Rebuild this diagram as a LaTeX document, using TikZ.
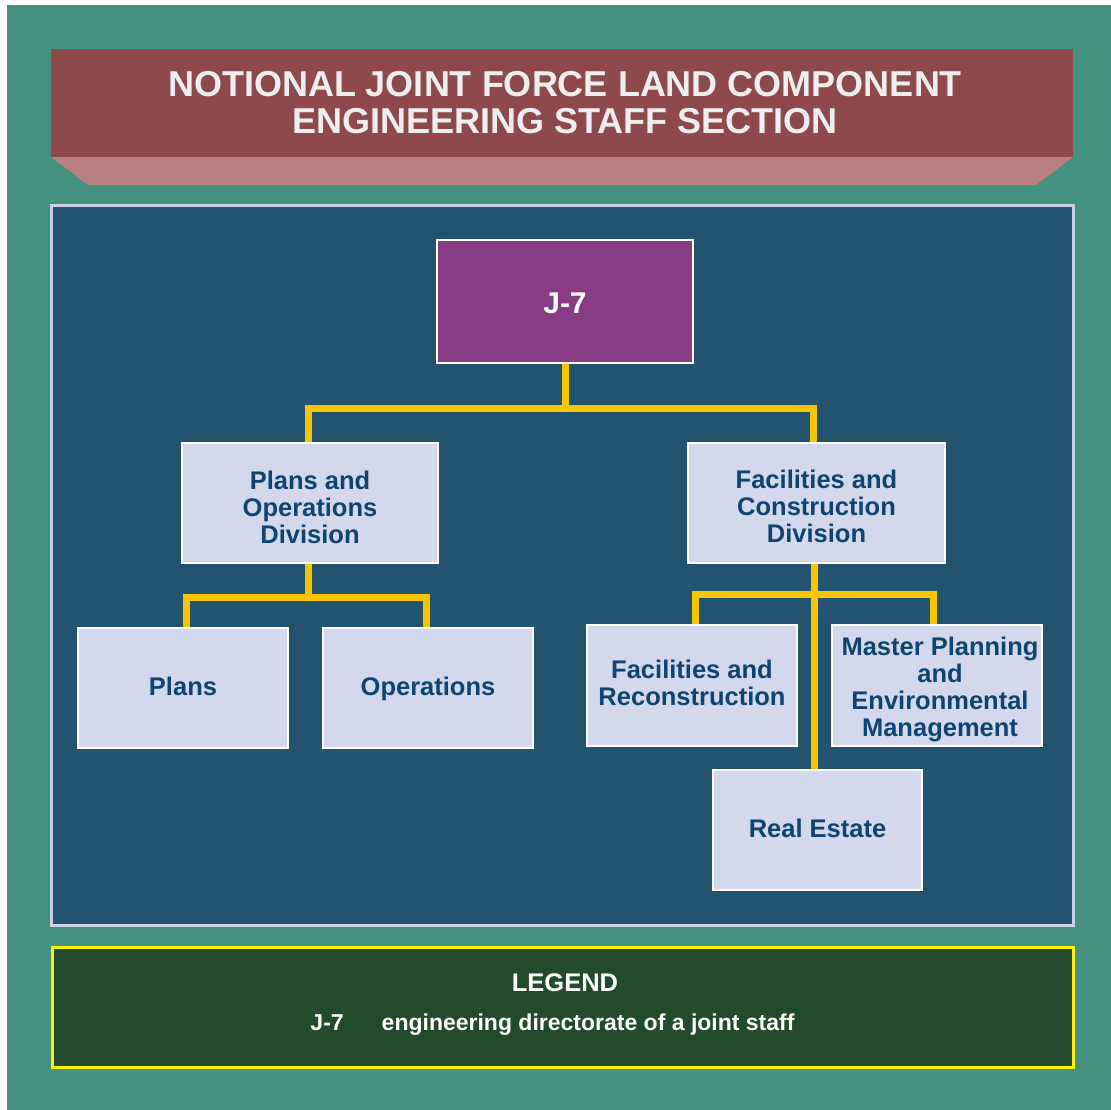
\documentclass[tikz,border=0pt]{standalone}
\usepackage{fontspec}
\setmainfont{Liberation Sans}
\definecolor{teal1}{RGB}{69,145,128}
\definecolor{banner}{RGB}{142,74,74}
\definecolor{bannerlow}{RGB}{185,129,129}
\definecolor{panel}{RGB}{36,83,112}
\definecolor{panelborder}{RGB}{204,208,230}
\definecolor{boxfill}{RGB}{211,216,236}
\definecolor{boxtext}{RGB}{13,68,113}
\definecolor{purp}{RGB}{135,60,132}
\definecolor{legendgreen}{RGB}{34,75,41}
\definecolor{conny}{RGB}{248,198,0}
\definecolor{titletext}{RGB}{238,238,238}
\tikzset{
  orgbox/.style={draw=white, line width=2pt, fill=boxfill, inner sep=0pt},
  boxlab/.style={text=boxtext, align=center, text depth=0pt, inner sep=0pt,
    font=\bfseries\fontsize{25.5}{27}\selectfont},
  conn/.style={draw=conny, line width=7pt, line join=miter},
}
\begin{document}
\begin{tikzpicture}[x=1pt,y=-1pt]
\useasboundingbox (0,0) rectangle (1111,1110);
\fill[white] (0,0) rectangle (1111,1110);
\fill[teal1] (7,5) rectangle (1111,1110);
% banner
\fill[bannerlow] (51,157) -- (1073,157) -- (1036,185) -- (88,185) -- cycle;
\fill[banner] (51,49) rectangle (1073,157);
\node[text=titletext, align=center, font=\bfseries\fontsize{36}{37}\selectfont] (title) at (565,103)
  {NOTIONAL JOINT FORCE LAND COMPONENT\\ENGINEERING STAFF SECTION};
% panel
\draw[panelborder, line width=3pt, fill=panel] (51.5,205.5) rectangle (1073.5,925.5);
% legend
\draw[yellow, line width=3pt, fill=legendgreen] (52.5,947.5) rectangle (1073.5,1067.5);
\node[text=white, font=\bfseries\fontsize{25.5}{28}\selectfont] (legtitle) at (565,983) {LEGEND};
\node[text=white, font=\bfseries\fontsize{23}{26}\selectfont] (legline) at (552.5,1025)
  {J-7\hspace{38pt}engineering directorate of a joint staff};
% nodes
\node[orgbox, fill=purp, minimum width=256pt, minimum height=123pt,
  label={[name=J7t, boxlab, text=white, font=\bfseries\fontsize{30}{32}\selectfont, yshift=-1.5pt]center:J-7}]
  (J7) at (565,301.5) {};
\node[orgbox, minimum width=256pt, minimum height=120pt,
  label={[name=PODt, boxlab, yshift=-4pt]center:{Plans and\\Operations\\Division}}]
  (POD) at (310,503) {};
\node[orgbox, minimum width=257pt, minimum height=120pt,
  label={[name=FCDt, boxlab, yshift=-3pt]center:{Facilities and\\Construction\\Division}}]
  (FCD) at (816.5,503) {};
\node[orgbox, minimum width=210pt, minimum height=120pt,
  label={[name=Planst, boxlab, yshift=2pt]center:Plans}]
  (Plans) at (183,688) {};
\node[orgbox, minimum width=210pt, minimum height=120pt,
  label={[name=Opst, boxlab, yshift=2pt]center:Operations}]
  (Ops) at (428,688) {};
\node[orgbox, minimum width=210pt, minimum height=121pt,
  label={[name=FRt, boxlab, yshift=3pt]center:{Facilities and\\Reconstruction}}]
  (FR) at (692,685.5) {};
\node[orgbox, minimum width=210pt, minimum height=121pt,
  label={[name=MPt, boxlab, yshift=-1pt, xshift=3pt]center:{Master Planning\\and\\Environmental\\Management}}]
  (MP) at (937,685.5) {};
\node[orgbox, minimum width=209pt, minimum height=120pt,
  label={[name=REt, boxlab, yshift=2pt]center:Real Estate}]
  (RE) at (817.5,830) {};
% connectors
\coordinate (b1) at (565,408);
\coordinate (b2) at (308,597);
\coordinate (b3) at (814,594);
\draw[conn] (J7.south) -- (b1);
\draw[conn] ([xshift=-2pt]POD.north) |- (b1) -| ([xshift=-3pt]FCD.north);
\draw[conn] ([xshift=-2pt]POD.south) -- (b2);
\draw[conn] ([xshift=3pt]Plans.north) |- (b2) -| ([xshift=-2pt]Ops.north);
\draw[conn] ([xshift=-2.5pt]FCD.south) -- ([xshift=-3.5pt]RE.north);
\draw[conn] ([xshift=3pt]FR.north) |- (b3) -| ([xshift=-4pt]MP.north);
\end{tikzpicture}
\end{document}
